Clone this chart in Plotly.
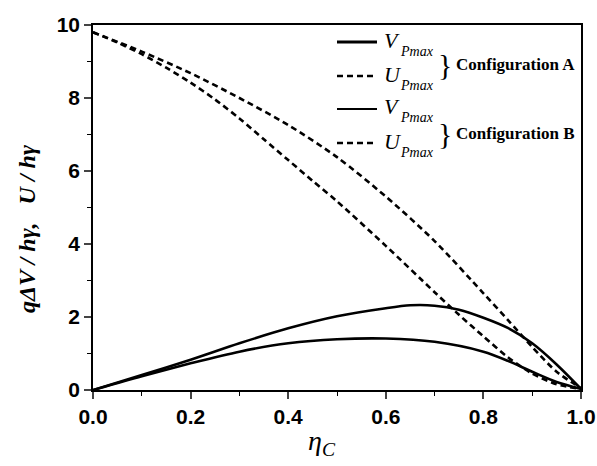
import plotly.graph_objects as go

# ---------------- data ----------------
eta_VA = [0, 0.1, 0.2, 0.3, 0.4, 0.5, 0.6, 0.7, 0.8, 0.85, 0.9, 0.95, 1.0]
V_A = [0, 0.38, 0.73, 1.05, 1.28, 1.39, 1.41, 1.32, 1.05, 0.8, 0.5, 0.22, 0.03]

eta_UA = [0, 0.05, 0.1, 0.15, 0.2, 0.25, 0.3, 0.35, 0.4, 0.45, 0.5, 0.6, 0.7, 0.75, 0.8, 0.85, 0.9, 0.95, 1.0]
U_A = [9.8, 9.52, 9.2, 8.83, 8.42, 7.96, 7.44, 6.87, 6.3, 5.73, 5.17, 3.95, 2.68, 2.06, 1.47, 0.9, 0.45, 0.16, 0.03]

eta_VB = [0, 0.1, 0.2, 0.3, 0.4, 0.5, 0.6, 0.65, 0.7, 0.75, 0.8, 0.85, 0.9, 0.95, 1.0]
V_B = [0, 0.41, 0.83, 1.28, 1.69, 2.02, 2.24, 2.32, 2.31, 2.2, 1.98, 1.7, 1.28, 0.7, 0.03]

eta_UB = [0, 0.1, 0.2, 0.3, 0.4, 0.5, 0.6, 0.7, 0.8, 0.85, 0.9, 0.95, 1.0]
U_B = [9.8, 9.27, 8.68, 8.0, 7.26, 6.38, 5.3, 4.08, 2.65, 1.92, 1.18, 0.5, 0.05]

x_ticks = [0.0, 0.2, 0.4, 0.6, 0.8, 1.0]
x_ticktext = ["0.0", "0.2", "0.4", "0.6", "0.8", "1.0"]
y_ticks = [0, 2, 4, 6, 8, 10]

# ---------------- layout helpers ----------------
W, H = 597, 466
L, R, T, B = 93, 581, 25, 390


def px(x):
    return (x - L) / (R - L)


def py(y):
    return (B - y) / (B - T)


fig = go.Figure()
solid = dict(color="black", width=2.6, shape="spline", smoothing=0.8)
dashed = dict(color="black", width=2.6, dash="6px,4px", shape="spline", smoothing=0.8)
fig.add_trace(go.Scatter(x=eta_VA, y=V_A, mode="lines", line=solid, name="V_Pmax A", showlegend=False))
fig.add_trace(go.Scatter(x=eta_UA, y=U_A, mode="lines", line=dashed, name="U_Pmax A", showlegend=False))
fig.add_trace(go.Scatter(x=eta_VB, y=V_B, mode="lines", line=solid, name="V_Pmax B", showlegend=False))
fig.add_trace(go.Scatter(x=eta_UB, y=U_B, mode="lines", line=dashed, name="U_Pmax B", showlegend=False))

tickfont = dict(family="Liberation Sans", size=21, color="black", weight="bold")
fig.update_xaxes(range=[0, 1], tickvals=x_ticks, ticktext=x_ticktext, ticks="outside", ticklen=7, tickwidth=1.5,
                 showline=True, linecolor="black", linewidth=1.5, mirror=True, showgrid=False, zeroline=False,
                 tickfont=tickfont, automargin=False,
                 minor=dict(ticks="outside", dtick=0.1, ticklen=4, tickwidth=1.2, tickcolor="black", showgrid=False))
fig.update_yaxes(range=[0, 10], tickvals=y_ticks, ticks="outside", ticklen=7, tickwidth=1.5,
                 showline=True, linecolor="black", linewidth=1.5, mirror=True, showgrid=False, zeroline=False,
                 tickfont=tickfont, automargin=False,
                 minor=dict(ticks="outside", dtick=1, ticklen=4, tickwidth=1.2, tickcolor="black", showgrid=False))

shapes = []
ann = []
serif = "Liberation Serif"
leg_rows = [(42, "solid", 2.8), (76, "dash", 2.6), (109, "solid", 2.0), (143, "dash", 2.6)]
labels = ["V", "U", "V", "U"]
for (yy, dash, lw), lab in zip(leg_rows, labels):
    shapes.append(dict(type="line", xref="paper", yref="paper", x0=px(337), x1=px(377), y0=py(yy), y1=py(yy),
                       line=dict(color="black", width=lw,
                                 dash="solid" if dash == "solid" else "6px,4px")))
    ann.append(dict(xref="paper", yref="paper", x=px(382), y=py(yy - 2), xanchor="left", yanchor="middle",
                    text="<i>%s</i>" % lab, showarrow=False, font=dict(family=serif, size=22, color="black")))
    ann.append(dict(xref="paper", yref="paper", x=px(398), y=py(yy + 9), xanchor="left", yanchor="middle",
                    text="<i>Pmax</i>", showarrow=False, font=dict(family=serif, size=14, color="black")))

for yc, name in [(64, "Configuration A"), (133, "Configuration B")]:
    ann.append(dict(xref="paper", yref="paper", x=px(445), y=py(yc), xanchor="center", yanchor="middle",
                    text="}", showarrow=False, font=dict(family=serif, size=30, color="black")))
    ann.append(dict(xref="paper", yref="paper", x=px(454), y=py(yc), xanchor="left", yanchor="middle",
                    text="<b>%s</b>" % name, showarrow=False, font=dict(family=serif, size=17, color="black")))

# axis titles
ann.append(dict(xref="paper", yref="paper", x=px(27), y=py(229), xanchor="center", yanchor="middle", textangle=-90,
                text="<b><i>qΔV / hγ,   U / hγ</i></b>", showarrow=False,
                font=dict(family=serif, size=24, color="black")))
ann.append(dict(xref="paper", yref="paper", x=px(322), y=py(442), xanchor="center", yanchor="middle",
                text="<i>η</i><sub><i>C</i></sub>", showarrow=False,
                font=dict(family=serif, size=28, color="black")))

fig.update_layout(width=W, height=H, margin=dict(l=L, r=W - R, t=T, b=H - B, autoexpand=False),
                  plot_bgcolor="white", paper_bgcolor="white", shapes=shapes, annotations=ann,
                  showlegend=False)

fig.write_html("out.html")
